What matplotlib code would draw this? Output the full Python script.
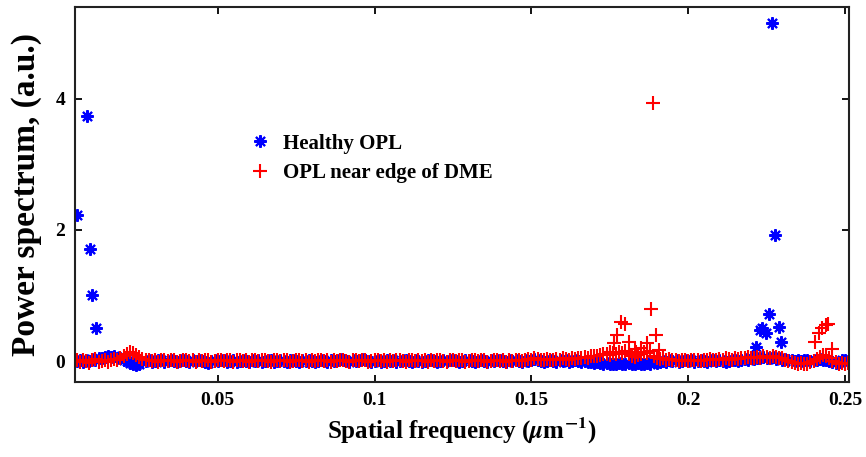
import numpy as np
import matplotlib
matplotlib.use('Agg')
import matplotlib.pyplot as plt

# frequency bins of the background band (um^-1), 0.005 ... 0.251
freq_bins = np.round(np.arange(0.005, 0.2515, 0.001), 4)

# background values, healthy OPL (one per bin)
healthy_base = [
    0.00, 0.01, -0.01, 0.02, 0.00, 0.03, 0.02, 0.04, 0.05, 0.06,
    0.07, 0.06, 0.07, 0.05, 0.04, 0.02, 0.00, -0.03, -0.05, -0.06,
    -0.04, -0.02, 0.00, 0.01, -0.01, 0.00, 0.02, 0.01, -0.01, 0.00,
    0.01, 0.00, -0.02, 0.01, 0.02, 0.00, -0.01, 0.01, 0.00, 0.02,
    0.00, -0.01, -0.03, 0.00, 0.01, 0.00, 0.02, 0.01, -0.01, 0.00,
    0.01, -0.01, 0.00, 0.02, 0.00, -0.02, 0.01, 0.00, 0.01, -0.01,
    0.00, 0.02, 0.01, -0.01, 0.00, 0.01, 0.00, -0.02, 0.01, 0.02,
    0.00, -0.01, 0.01, 0.00, 0.02, 0.00, -0.01, 0.00, 0.01, 0.00,
    -0.02, 0.01, 0.00, 0.02, 0.03, 0.01, 0.00, -0.01, 0.01, 0.00,
    0.02, 0.03, 0.01, 0.00, -0.01, 0.00, 0.01, -0.01, 0.00, 0.02,
    0.00, 0.01, -0.02, 0.00, 0.01, 0.02, 0.00, -0.01, 0.01, 0.00,
    -0.01, 0.00, 0.02, 0.01, 0.00, -0.02, 0.00, 0.01, 0.00, 0.02,
    0.01, 0.00, -0.01, 0.00, 0.01, 0.02, 0.00, -0.01, 0.00, 0.01,
    0.00, -0.02, 0.01, 0.00, 0.02, 0.01, 0.00, -0.01, 0.01, 0.00,
    0.02, 0.00, -0.01, 0.01, 0.00, 0.01, 0.03, 0.02, 0.00, -0.01,
    0.00, 0.01, 0.00, -0.02, 0.01, 0.00, 0.01, -0.01, 0.00, 0.01,
    0.00, -0.01, 0.00, -0.02, -0.01, -0.03, -0.02, -0.03, -0.04, -0.03,
    -0.04, -0.05, -0.04, -0.03, -0.05, -0.04, -0.03, -0.05, -0.04, -0.03,
    -0.05, -0.04, -0.03, -0.04, -0.02, -0.03, -0.01, 0.00, -0.01, 0.01,
    0.00, 0.01, -0.01, 0.00, 0.02, 0.00, 0.01, -0.01, 0.00, 0.01,
    0.00, -0.01, 0.01, 0.02, 0.00, 0.01, 0.00, -0.01, 0.00, 0.01,
    0.02, 0.00, 0.01, 0.03, 0.02, 0.04, 0.03, 0.05, 0.04, 0.06,
    0.05, 0.04, 0.06, 0.03, 0.04, 0.02, 0.03, 0.01, 0.02, 0.00,
    0.01, 0.00, 0.01, 0.02, 0.00, 0.02, 0.01, 0.03, 0.02, 0.01,
    0.00, -0.02, -0.03, -0.01, 0.01, 0.02, 0.00,
]

# background values, OPL near edge of DME (one per bin)
dme_base = [
    0.01, -0.02, 0.02, 0.00, -0.03, 0.01, 0.03, -0.01, 0.00, 0.02,
    -0.01, 0.01, 0.03, 0.02, 0.05, 0.08, 0.11, 0.13, 0.12, 0.09,
    0.06, 0.03, 0.01, 0.02, 0.00, 0.01, -0.01, 0.02, 0.01, 0.00,
    0.02, 0.01, -0.01, 0.00, 0.02, 0.01, 0.00, 0.02, -0.01, 0.01,
    0.00, 0.02, 0.01, -0.01, 0.00, 0.02, 0.01, 0.00, 0.02, 0.01,
    -0.01, 0.01, 0.02, 0.00, 0.01, -0.01, 0.02, 0.01, 0.00, 0.02,
    0.01, 0.00, -0.01, 0.02, 0.01, 0.00, 0.02, 0.01, -0.01, 0.00,
    0.02, 0.01, 0.00, 0.01, -0.01, 0.02, 0.00, 0.01, 0.02, 0.00,
    0.01, -0.01, 0.02, 0.00, 0.01, 0.02, 0.00, -0.01, 0.01, 0.02,
    0.00, 0.01, 0.02, -0.01, 0.00, 0.02, 0.01, 0.00, 0.01, -0.01,
    0.02, 0.00, 0.01, 0.02, 0.00, -0.01, 0.01, 0.02, 0.00, 0.01,
    0.00, 0.02, -0.01, 0.01, 0.00, 0.02, 0.01, 0.00, -0.01, 0.02,
    0.01, 0.00, 0.02, 0.01, -0.01, 0.00, 0.02, 0.01, 0.00, 0.01,
    0.02, -0.01, 0.00, 0.01, 0.02, 0.00, 0.01, -0.01, 0.02, 0.00,
    0.01, 0.02, 0.00, 0.01, 0.03, 0.02, 0.04, 0.03, 0.01, 0.02,
    0.03, 0.02, 0.01, 0.03, 0.02, 0.04, 0.03, 0.02, 0.04, 0.03,
    0.05, 0.04, 0.06, 0.05, 0.07, 0.08, 0.07, 0.09, 0.10, 0.11,
    0.09, 0.12, 0.10, 0.14, 0.12, 0.16, 0.10, 0.08, 0.06, 0.09,
    0.11, 0.14, 0.12, 0.16, 0.08, 0.05, 0.03, 0.04, 0.02, 0.03,
    0.01, 0.02, 0.00, 0.01, 0.02, 0.00, 0.01, 0.02, 0.01, 0.00,
    0.02, 0.01, 0.03, 0.02, 0.01, 0.03, 0.02, 0.04, 0.03, 0.02,
    0.04, 0.03, 0.05, 0.04, 0.06, 0.05, 0.04, 0.06, 0.05, 0.07,
    0.06, 0.05, 0.07, 0.06, 0.05, 0.04, 0.02, 0.00, -0.02, -0.03,
    -0.04, -0.03, -0.05, -0.04, -0.02, 0.00, 0.03, 0.06, 0.09, 0.08,
    0.04, 0.00, -0.02, -0.04, -0.03, -0.05, -0.03,
]

# isolated peaks
healthy_peak_f = [0.0051, 0.0083, 0.0092, 0.0099, 0.0111,
                  0.2217, 0.2230, 0.2236, 0.2248, 0.2258, 0.2268, 0.2277, 0.2290, 0.2296]
healthy_peak_v = [2.23, 3.74, 1.71, 1.01, 0.50,
                  0.21, 0.48, 0.50, 0.43, 0.72, 5.16, 1.92, 0.52, 0.29]

dme_peak_f = [0.1750, 0.1764, 0.1774, 0.1787, 0.1800, 0.1812, 0.1830, 0.1834, 0.1850,
              0.1870, 0.1882, 0.1888, 0.1898, 0.1907,
              0.2404, 0.2417, 0.2427, 0.2439, 0.2445, 0.2459]
dme_peak_v = [0.13, 0.27, 0.40, 0.60, 0.56, 0.29, 0.18, 0.14, 0.20,
              0.27, 0.79, 3.94, 0.40, 0.17,
              0.29, 0.43, 0.50, 0.55, 0.57, 0.18]

series_labels = ['Healthy OPL', 'OPL near edge of DME']

plt.rcParams['font.family'] = ['Liberation Serif', 'DejaVu Serif']
plt.rcParams['font.weight'] = 'bold'
plt.rcParams['mathtext.fontset'] = 'stix'

fig = plt.figure(figsize=(8.66, 4.57), dpi=100)
ax = fig.add_axes([75 / 866, 75 / 457, 774 / 866, 375 / 457])

asterisk = (8, 2, 0)

h_f = np.concatenate([freq_bins, healthy_peak_f])
h_v = np.concatenate([healthy_base, healthy_peak_v])
d_f = np.concatenate([freq_bins, dme_peak_f])
d_v = np.concatenate([dme_base, dme_peak_v])

ax.plot(h_f, h_v, linestyle='none', marker=asterisk, ms=9, mew=1.5,
        color='#0000ff', label=series_labels[0])
ax.plot(d_f, d_v, linestyle='none', marker='+', ms=10, mew=1.5,
        color='#ff0000', label=series_labels[1])

ax.set_xlim(0.0045, 0.2513)
ax.set_ylim(-0.32, 5.40)
ax.set_xticks([0.05, 0.1, 0.15, 0.2, 0.25])
ax.set_xticklabels(['0.05', '0.1', '0.15', '0.2', '0.25'])
ax.set_yticks([0, 2, 4])

ax.tick_params(direction='in', top=True, right=True, length=5, width=1.3,
               labelsize=14, pad=7)
for sp in ax.spines.values():
    sp.set_linewidth(1.5)
    sp.set_color('#222222')

ax.set_xlabel(r'Spatial frequency ($\mu$m$^{-1}$)', fontsize=18, fontweight='bold', labelpad=5)
ax.set_ylabel('Power spectrum, (a.u.)', fontsize=24, fontweight='bold', labelpad=10)

ax.legend(loc='upper left', bbox_to_anchor=(0.226, 0.662), frameon=False,
          fontsize=15, handlelength=0.95, handletextpad=0.65, labelspacing=0.45,
          borderpad=0, borderaxespad=0)

fig.savefig('out.png', dpi=100)
